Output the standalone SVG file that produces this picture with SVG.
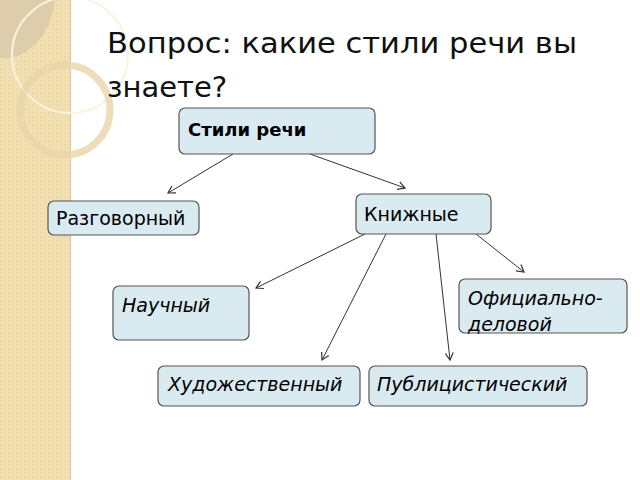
<svg xmlns="http://www.w3.org/2000/svg" width="640" height="480" viewBox="0 0 640 480">
<style>
.n rect{fill:#d9eaf1;stroke:#555;stroke-width:1.2}
.n text{font-family:"DejaVu Sans",Verdana,sans-serif;font-size:19px;fill:#000}
.i text{font-style:italic}
#edges line{stroke:#333;stroke-width:1;marker-end:url(#a)}
</style>
<defs>
<marker id="a" markerWidth="10" markerHeight="10" refX="8" refY="5" orient="auto" markerUnits="userSpaceOnUse">
<path d="M1,1 L8,5 L1,9" fill="none" stroke="#333" stroke-width="1.2"/>
</marker>
<pattern id="p" width="4" height="4" patternUnits="userSpaceOnUse"><rect width="4" height="4" fill="#f2e0b3"/><rect width="2" height="2" fill="#ecd9a8"/></pattern>
</defs>
<rect width="640" height="480" fill="#fff"/>
<rect width="70" height="480" fill="url(#p)"/>
<line x1="70.5" y1="0" x2="70.5" y2="480" stroke="#d8c9a2"/>
<path d="M0,0 H55 Q50,40 20,55 Q8,60 0,58 Z" fill="#d8c8a8" opacity="0.8"/>
<circle cx="70" cy="55" r="58" fill="none" stroke="#fbf3e0" stroke-width="2"/>
<circle cx="65" cy="110" r="45" fill="none" stroke="#e8d5a8" stroke-width="7" opacity="0.8"/>
<text x="107" y="53" font-family="'DejaVu Sans',Verdana,sans-serif" font-size="28" fill="#111" textLength="470" lengthAdjust="spacingAndGlyphs">Вопрос: какие стили речи вы</text>
<text x="107" y="97" font-family="'DejaVu Sans',Verdana,sans-serif" font-size="29" fill="#111">знаете?</text>
<g id="edges">
<line x1="233" y1="154" x2="168" y2="193"/>
<line x1="310" y1="154" x2="405" y2="188"/>
<line x1="365" y1="234" x2="256" y2="288"/>
<line x1="386" y1="234" x2="322" y2="360"/>
<line x1="436" y1="234" x2="450" y2="360"/>
<line x1="476" y1="234" x2="524" y2="272"/>
</g>
<g id="n1" class="n"><rect x="179" y="108" width="196" height="46" rx="6"/><text x="188" y="136" font-weight="bold" style="font-size:18px">Стили речи</text></g>
<g id="n2" class="n"><rect x="48" y="201" width="151" height="34" rx="6"/><text x="56" y="225">Разговорный</text></g>
<g id="n3" class="n"><rect x="356" y="194" width="135" height="40" rx="6"/><text x="364" y="221">Книжные</text></g>
<g id="n4" class="n i"><rect x="113" y="286" width="136" height="54" rx="6"/><text x="122" y="312">Научный</text></g>
<g id="n5" class="n i"><rect x="459" y="279" width="168" height="54" rx="6"/><text x="468" y="305">Официально-</text><text x="468" y="331">деловой</text></g>
<g id="n6" class="n i"><rect x="158" y="366" width="202" height="40" rx="6"/><text x="168" y="391">Художественный</text></g>
<g id="n7" class="n i"><rect x="369" y="366" width="218" height="40" rx="6"/><text x="377" y="391">Публицистический</text></g>
</svg>
